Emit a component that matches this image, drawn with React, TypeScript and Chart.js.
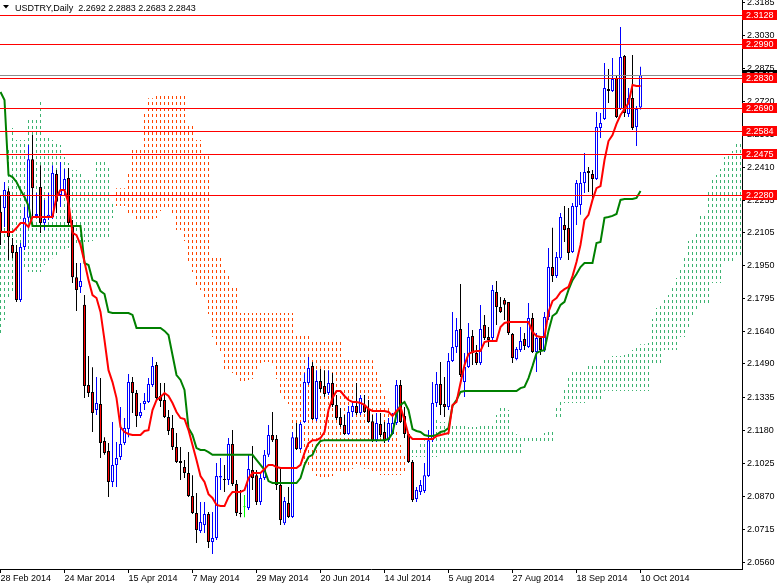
import React, { useEffect, useRef } from 'react';
import { Chart, registerables } from 'chart.js';

Chart.register(...registerables);

const W = 777;
const H = 584;

const symbolTitle = 'USDTRY,Daily';
const dateLabels = ['28 Feb 2014', '24 Mar 2014', '15 Apr 2014', '7 May 2014', '29 May 2014', '20 Jun 2014', '14 Jul 2014', '5 Aug 2014', '27 Aug 2014', '18 Sep 2014', '10 Oct 2014'];
const dateLabelBars = [0, 16, 32, 48, 64, 80, 96, 112, 128, 144, 160];
const priceTicks = [2.3185, 2.3030, 2.2875, 2.2720, 2.2565, 2.2410, 2.2255, 2.2105, 2.1950, 2.1795, 2.1640, 2.1490, 2.1335, 2.1180, 2.1025, 2.0870, 2.0715, 2.0560];
const priceMin = 2.0529;
const priceMax = 2.3196;
const levelLines = [2.3128, 2.2990, 2.2830, 2.2690, 2.2584, 2.2475, 2.2280];
const bidPrice = 2.2843;

const opens = [
  2.2203, 2.2221, 2.2300, 2.2048, 2.2015, 2.1790, 2.2038, 2.2175, 2.2450, 2.2184,
  2.2319, 2.2151, 2.2175, 2.2179, 2.2380, 2.2282, 2.2305, 2.2362, 2.2132, 2.1897,
  2.1851, 2.1767, 2.1392, 2.1359, 2.1274, 2.1302, 2.1129, 2.1082, 2.0937, 2.1017,
  2.1054, 2.1119, 2.1185, 2.1405, 2.1354, 2.1246, 2.1302, 2.1312, 2.1392, 2.1485,
  2.1340, 2.1321, 2.1241, 2.1190, 2.1101, 2.1035, 2.1007, 2.0979, 2.0871, 2.0791,
  2.0707, 2.0735, 2.0787, 2.0656, 2.0674, 2.0958, 2.0951, 2.0946, 2.1115, 2.0927,
  2.0793, 2.0819, 2.0815, 2.0993, 2.0969, 2.0843, 2.0955, 2.1064, 2.1157, 2.1138,
  2.0923, 2.0744, 2.0838, 2.0773, 2.1147, 2.1091, 2.1218, 2.1401, 2.1480, 2.1232,
  2.1410, 2.1387, 2.1354, 2.1401, 2.1298, 2.1241, 2.1204, 2.1162, 2.1265, 2.1293,
  2.1260, 2.1298, 2.1279, 2.1222, 2.1133, 2.1209, 2.1171, 2.1133, 2.1162, 2.1213,
  2.1392, 2.1246, 2.1162, 2.1031, 2.0857, 2.0890, 2.0895, 2.0965, 2.1133, 2.1307,
  2.1396, 2.1302, 2.1288, 2.1504, 2.1569, 2.1654, 2.1405, 2.1476, 2.1621, 2.1541,
  2.1494, 2.1673, 2.1616, 2.1612, 2.1827, 2.1757, 2.1790, 2.1781, 2.1630, 2.1513,
  2.1555, 2.1607, 2.1569, 2.1705, 2.1546, 2.1612, 2.1555, 2.1710, 2.1944, 2.1902,
  2.1986, 2.2141, 2.2127, 2.2015, 2.2226, 2.2235, 2.2338, 2.2394, 2.2380, 2.2357,
  2.2596, 2.2638, 2.2779, 2.2769, 2.2830, 2.2685, 2.2933, 2.2662, 2.2737, 2.2601,
  2.2692,
];
const highs = [
  2.2282, 2.2343, 2.2314, 2.2080, 2.2048, 2.2057, 2.2226, 2.2516, 2.2563, 2.2291,
  2.2422, 2.2259, 2.2291, 2.2422, 2.2399, 2.2437, 2.2404, 2.2409, 2.2165, 2.1963,
  2.1963, 2.1813, 2.1527, 2.1475, 2.1429, 2.1424, 2.1147, 2.1119, 2.1218, 2.1124,
  2.1288, 2.1237, 2.1443, 2.1429, 2.1368, 2.1307, 2.1354, 2.1424, 2.1523, 2.1499,
  2.1401, 2.1401, 2.1274, 2.1251, 2.1166, 2.1101, 2.1040, 2.1077, 2.0969, 2.0885,
  2.0843, 2.0843, 2.0796, 2.0796, 2.1026, 2.1049, 2.1017, 2.1143, 2.1180, 2.0946,
  2.0899, 2.0876, 2.1064, 2.1105, 2.0993, 2.0979, 2.1087, 2.1204, 2.1265, 2.1157,
  2.1002, 2.0866, 2.0913, 2.1171, 2.1213, 2.1218, 2.1448, 2.1523, 2.1499, 2.1461,
  2.1466, 2.1461, 2.1461, 2.1448, 2.1345, 2.1284, 2.1251, 2.1293, 2.1312, 2.1401,
  2.1345, 2.1345, 2.1321, 2.1251, 2.1260, 2.1260, 2.1218, 2.1237, 2.1260, 2.1415,
  2.1415, 2.1288, 2.1166, 2.1040, 2.0913, 2.0946, 2.1026, 2.1180, 2.1405, 2.1452,
  2.1499, 2.1429, 2.1541, 2.1734, 2.1705, 2.1865, 2.1541, 2.1682, 2.1649, 2.1579,
  2.1766, 2.1720, 2.1663, 2.1860, 2.1879, 2.1804, 2.1799, 2.1781, 2.1635, 2.1569,
  2.1663, 2.1635, 2.1776, 2.1729, 2.1635, 2.1616, 2.1734, 2.2033, 2.2128, 2.2015,
  2.2198, 2.2231, 2.2221, 2.2245, 2.2352, 2.2390, 2.2479, 2.2413, 2.2399, 2.2671,
  2.2666, 2.2901, 2.2872, 2.2924, 2.2844, 2.3069, 2.2938, 2.2783, 2.2938, 2.2699,
  2.2883,
];
const lows = [
  2.2048, 2.2132, 2.1977, 2.1986, 2.1781, 2.1781, 2.2024, 2.2156, 2.2179, 2.2175,
  2.2104, 2.2118, 2.2165, 2.2170, 2.2198, 2.2226, 2.2282, 2.2132, 2.1869, 2.1738,
  2.1823, 2.1330, 2.1335, 2.1171, 2.1251, 2.1049, 2.1064, 2.0866, 2.0913, 2.0913,
  2.1040, 2.1110, 2.1147, 2.1260, 2.1194, 2.1237, 2.1274, 2.1307, 2.1382, 2.1321,
  2.1288, 2.1237, 2.1157, 2.1087, 2.1026, 2.0946, 2.0955, 2.0866, 2.0787, 2.0651,
  2.0698, 2.0698, 2.0627, 2.0599, 2.0665, 2.0899, 2.0890, 2.0923, 2.0918, 2.0777,
  2.0772, 2.0772, 2.0805, 2.0899, 2.0829, 2.0829, 2.0946, 2.1054, 2.1124, 2.0899,
  2.0735, 2.0735, 2.0768, 2.0768, 2.1087, 2.1087, 2.1213, 2.1392, 2.1227, 2.1222,
  2.1359, 2.1335, 2.1345, 2.1288, 2.1227, 2.1194, 2.1157, 2.1157, 2.1241, 2.1251,
  2.1251, 2.1260, 2.1213, 2.1124, 2.1124, 2.1147, 2.1119, 2.1124, 2.1157, 2.1204,
  2.1213, 2.1143, 2.1026, 2.0843, 2.0843, 2.0876, 2.0885, 2.0960, 2.1124, 2.1288,
  2.1251, 2.1241, 2.1274, 2.1499, 2.1541, 2.1429, 2.1335, 2.1471, 2.1485, 2.1485,
  2.1485, 2.1602, 2.1569, 2.1602, 2.1673, 2.1729, 2.1696, 2.1626, 2.1494, 2.1508,
  2.1546, 2.1555, 2.1565, 2.1541, 2.1452, 2.1532, 2.1546, 2.1696, 2.1874, 2.1893,
  2.1977, 2.2062, 2.1977, 2.2010, 2.2141, 2.2189, 2.2291, 2.2296, 2.2259, 2.2352,
  2.2549, 2.2634, 2.2713, 2.2765, 2.2643, 2.2680, 2.2648, 2.2648, 2.2587, 2.2512,
  2.2683,
];
const closes = [
  2.2109, 2.2305, 2.2085, 2.2010, 2.1790, 2.2038, 2.2175, 2.2450, 2.2314, 2.2193,
  2.2151, 2.2170, 2.2189, 2.2385, 2.2250, 2.2305, 2.2357, 2.2151, 2.1897, 2.1837,
  2.1879, 2.1387, 2.1354, 2.1260, 2.1307, 2.1119, 2.1073, 2.0937, 2.1017, 2.1049,
  2.1115, 2.1190, 2.1405, 2.1354, 2.1246, 2.1265, 2.1316, 2.1396, 2.1480, 2.1330,
  2.1316, 2.1241, 2.1176, 2.1101, 2.1031, 2.1026, 2.0979, 2.0871, 2.0791, 2.0712,
  2.0749, 2.0787, 2.0656, 2.0674, 2.0965, 2.0965, 2.0946, 2.1115, 2.0927, 2.0791,
  2.0787, 2.0819, 2.0998, 2.0955, 2.0843, 2.0955, 2.1064, 2.1157, 2.1133, 2.0923,
  2.0759, 2.0848, 2.0773, 2.1147, 2.1091, 2.1209, 2.1405, 2.1471, 2.1232, 2.1410,
  2.1373, 2.1349, 2.1401, 2.1298, 2.1237, 2.1204, 2.1162, 2.1265, 2.1293, 2.1260,
  2.1330, 2.1265, 2.1218, 2.1133, 2.1213, 2.1157, 2.1133, 2.1213, 2.1213, 2.1392,
  2.1218, 2.1162, 2.1031, 2.0852, 2.0899, 2.0923, 2.0969, 2.1133, 2.1307, 2.1396,
  2.1298, 2.1288, 2.1504, 2.1569, 2.1649, 2.1438, 2.1476, 2.1616, 2.1541, 2.1494,
  2.1654, 2.1612, 2.1602, 2.1837, 2.1757, 2.1734, 2.1767, 2.1635, 2.1518, 2.1560,
  2.1598, 2.1574, 2.1705, 2.1546, 2.1612, 2.1555, 2.1710, 2.1944, 2.1902, 2.1991,
  2.2179, 2.2118, 2.2010, 2.2231, 2.2338, 2.2338, 2.2390, 2.2385, 2.2357, 2.2601,
  2.2620, 2.2783, 2.2769, 2.2826, 2.2648, 2.2929, 2.2666, 2.2737, 2.2596, 2.2685,
  2.2843,
];

const tenkan = [
  2.2109, 2.2109, 2.2109, 2.2109, 2.2127, 2.2151, 2.2151, 2.2132, 2.2179, 2.2179,
  2.2179, 2.2179, 2.2179, 2.2179, 2.2273, 2.2305, 2.2305, 2.2245, 2.2104, 2.2094,
  2.2048, 2.1968, 2.1883, 2.1813, 2.1799, 2.1734, 2.1602, 2.1461, 2.1405, 2.1330,
  2.1194, 2.1171, 2.1162, 2.1157, 2.1157, 2.1157, 2.1176, 2.1180, 2.1274, 2.1321,
  2.1335, 2.1354, 2.1340, 2.1307, 2.1265, 2.1237, 2.1232, 2.1180, 2.1110, 2.1040,
  2.0965, 2.0937, 2.0880, 2.0862, 2.0829, 2.0824, 2.0824, 2.0866, 2.0890, 2.0890,
  2.0890, 2.0899, 2.0955, 2.0979, 2.0979, 2.0979, 2.0998, 2.1017, 2.1017, 2.1007,
  2.1002, 2.1002, 2.1002, 2.1002, 2.1002, 2.1017, 2.1073, 2.1119, 2.1133, 2.1133,
  2.1143, 2.1171, 2.1274, 2.1330, 2.1363, 2.1363, 2.1340, 2.1321, 2.1312, 2.1312,
  2.1307, 2.1298, 2.1279, 2.1270, 2.1270, 2.1270, 2.1270, 2.1265, 2.1246, 2.1270,
  2.1288, 2.1227, 2.1157, 2.1138, 2.1138, 2.1138, 2.1138, 2.1138, 2.1138, 2.1152,
  2.1157, 2.1162, 2.1166, 2.1298, 2.1312, 2.1401, 2.1485, 2.1537, 2.1546, 2.1551,
  2.1551, 2.1593, 2.1598, 2.1598, 2.1598, 2.1663, 2.1682, 2.1687, 2.1687, 2.1687,
  2.1687, 2.1687, 2.1687, 2.1640, 2.1621, 2.1616, 2.1616, 2.1734, 2.1785, 2.1799,
  2.1827, 2.1841, 2.1851, 2.1902, 2.1968, 2.2048, 2.2165, 2.2189, 2.2259, 2.2314,
  2.2324, 2.2446, 2.2535, 2.2563, 2.2615, 2.2657, 2.2685, 2.2713, 2.2798, 2.2793,
  2.2793,
];
const kijun = [
  2.2765, 2.2727, 2.2376, 2.2366, 2.2343, 2.2305, 2.2273, 2.2231, 2.2137, 2.2137,
  2.2137, 2.2137, 2.2137, 2.2137, 2.2137, 2.2137, 2.2137, 2.2137, 2.2137, 2.2137,
  2.2137, 2.1963, 2.1954, 2.1883, 2.1874, 2.1832, 2.1818, 2.1734, 2.1729, 2.1729,
  2.1729, 2.1729, 2.1729, 2.1720, 2.1659, 2.1659, 2.1659, 2.1659, 2.1659, 2.1659,
  2.1659, 2.1645, 2.1626, 2.1532, 2.1438, 2.1415, 2.1368, 2.1190, 2.1157, 2.1096,
  2.1087, 2.1087, 2.1077, 2.1064, 2.1064, 2.1064, 2.1064, 2.1064, 2.1064, 2.1064,
  2.1064, 2.1064, 2.1064, 2.1064, 2.1040, 2.1017, 2.0993, 2.0941, 2.0932, 2.0932,
  2.0932, 2.0932, 2.0932, 2.0932, 2.0932, 2.0955, 2.1017, 2.1054, 2.1064, 2.1105,
  2.1129, 2.1133, 2.1133, 2.1133, 2.1133, 2.1133, 2.1133, 2.1133, 2.1133, 2.1133,
  2.1133, 2.1133, 2.1133, 2.1133, 2.1133, 2.1133, 2.1133, 2.1138, 2.1166, 2.1255,
  2.1298, 2.1312, 2.1274, 2.1185, 2.1176, 2.1171, 2.1157, 2.1152, 2.1152, 2.1157,
  2.1171, 2.1176, 2.1190, 2.1293, 2.1321, 2.1359, 2.1363, 2.1363, 2.1363, 2.1363,
  2.1363, 2.1363, 2.1363, 2.1363, 2.1363, 2.1363, 2.1363, 2.1363, 2.1363, 2.1363,
  2.1377, 2.1382, 2.1424, 2.1480, 2.1541, 2.1551, 2.1555, 2.1645, 2.1715, 2.1729,
  2.1767, 2.1781, 2.1837, 2.1883, 2.1912, 2.1944, 2.1963, 2.1963, 2.1963, 2.2057,
  2.2062, 2.2175, 2.2179, 2.2184, 2.2193, 2.2259, 2.2263, 2.2263, 2.2263, 2.2268,
  2.2301,
];

const spanA = [
  2.2259, 2.2305, 2.2507, 2.2596, 2.2540, 2.2540, 2.2540, 2.2634, 2.2634, 2.2634,
  2.2718, 2.2554, 2.2554, 2.2540, 2.2526, 2.2516, 2.2460, 2.2432, 2.2399, 2.2399,
  2.2385, 2.2361, 2.2352, 2.2352, 2.2437, 2.2437, 2.2437, 2.2418, 2.2245, 2.2231,
  2.2231, 2.2231, 2.2198, 2.2198, 2.2156, 2.2156, 2.2156, 2.2165, 2.2165, 2.2174,
  2.2207, 2.2226, 2.2221, 2.2193, 2.2118, 2.2118, 2.2066, 2.1968, 2.1921, 2.1851,
  2.1837, 2.1790, 2.1724, 2.1616, 2.1574, 2.1537, 2.1461, 2.1452, 2.1448, 2.1438,
  2.1410, 2.1410, 2.1415, 2.1420, 2.1466, 2.1490, 2.1499, 2.1499, 2.1485, 2.1420,
  2.1354, 2.1326, 2.1302, 2.1185, 2.1133, 2.1068, 2.1026, 2.1012, 2.0979, 2.0965,
  2.0946, 2.0946, 2.0946, 2.0965, 2.0979, 2.0979, 2.0979, 2.0984, 2.0998, 2.1021,
  2.1012, 2.0998, 2.0998, 2.0979, 2.0974, 2.0970, 2.0970, 2.0970, 2.0970, 2.0970,
  2.0970, 2.0988, 2.1077, 2.1087, 2.1101, 2.1119, 2.1133, 2.1152, 2.1204, 2.1227,
  2.1218, 2.1218, 2.1209, 2.1204, 2.1199, 2.1199, 2.1199, 2.1194, 2.1194, 2.1194,
  2.1199, 2.1199, 2.1199, 2.1204, 2.1251, 2.1288, 2.1293, 2.1274, 2.1180, 2.1162,
  2.1157, 2.1157, 2.1147, 2.1147, 2.1147, 2.1157, 2.1166, 2.1171, 2.1180, 2.1298,
  2.1316, 2.1382, 2.1424, 2.1452, 2.1457, 2.1457, 2.1457, 2.1480, 2.1480, 2.1480,
  2.1480, 2.1513, 2.1523, 2.1527, 2.1527, 2.1527, 2.1532, 2.1537, 2.1555, 2.1569,
  2.1583, 2.1583, 2.1588, 2.1701, 2.1752, 2.1766, 2.1799, 2.1813, 2.1846, 2.1893,
  2.1939, 2.1996, 2.2066, 2.2076, 2.2113, 2.2189, 2.2193, 2.2310, 2.2361, 2.2376,
  2.2404, 2.2460, 2.2474, 2.2488, 2.2530, 2.2530, 2.2549,
];
const spanB = [
  2.1626, 2.1696, 2.1790, 2.1823, 2.1883, 2.1921, 2.1930, 2.1921, 2.1921, 2.1921,
  2.1921, 2.1954, 2.1968, 2.1986, 2.2001, 2.2015, 2.2024, 2.2034, 2.2038, 2.2048,
  2.2057, 2.2062, 2.2062, 2.2066, 2.2071, 2.2071, 2.2071, 2.2071, 2.2174, 2.2314,
  2.2314, 2.2314, 2.2380, 2.2507, 2.2507, 2.2507, 2.2671, 2.2736, 2.2736, 2.2746,
  2.2751, 2.2751, 2.2751, 2.2760, 2.2760, 2.2760, 2.2760, 2.2620, 2.2620, 2.2540,
  2.2540, 2.2479, 2.2479, 2.2001, 2.2001, 2.2001, 2.1939, 2.1907, 2.1860, 2.1860,
  2.1729, 2.1729, 2.1729, 2.1729, 2.1729, 2.1729, 2.1729, 2.1729, 2.1729, 2.1729,
  2.1729, 2.1729, 2.1729, 2.1729, 2.1626, 2.1626, 2.1626, 2.1626, 2.1593, 2.1593,
  2.1593, 2.1593, 2.1593, 2.1593, 2.1593, 2.1593, 2.1523, 2.1523, 2.1523, 2.1523,
  2.1523, 2.1523, 2.1523, 2.1508, 2.1461, 2.1401, 2.1345, 2.1298, 2.1251, 2.1180,
  2.1110, 2.1064, 2.1054, 2.1054, 2.1054, 2.1054, 2.1054, 2.1054, 2.1054, 2.1054,
  2.1059, 2.1064, 2.1064, 2.1064, 2.1064, 2.1064, 2.1064, 2.1064, 2.1064, 2.1064,
  2.1064, 2.1064, 2.1064, 2.1064, 2.1064, 2.1064, 2.1064, 2.1064, 2.1064, 2.1064,
  2.1064, 2.1124, 2.1124, 2.1124, 2.1124, 2.1124, 2.1124, 2.1124, 2.1124, 2.1237,
  2.1237, 2.1307, 2.1307, 2.1307, 2.1307, 2.1307, 2.1307, 2.1321, 2.1321, 2.1321,
  2.1321, 2.1363, 2.1363, 2.1363, 2.1363, 2.1363, 2.1363, 2.1363, 2.1363, 2.1363,
  2.1363, 2.1363, 2.1363, 2.1485, 2.1485, 2.1485, 2.1555, 2.1555, 2.1555, 2.1555,
  2.1616, 2.1616, 2.1663, 2.1705, 2.1743, 2.1766, 2.1766, 2.1766, 2.1869, 2.1869,
  2.1869, 2.1968, 2.1968, 2.1968, 2.1991, 2.1991, 2.1991,
];

const FONT = '"Liberation Sans", Arial, sans-serif';

const overlayPlugin = {
  id: 'mt4Overlay',
  afterDatasetsDraw(chart: any) {
    const { ctx, chartArea: a, scales } = chart;
    const y = scales.y;
    const py = (v: number) => Math.round(y.getPixelForValue(v)) + 0.5;
    ctx.save();
    ctx.beginPath();
    ctx.rect(a.left, a.top, a.right - a.left, a.bottom - a.top);
    ctx.clip();
    ctx.lineWidth = 1;
    ctx.strokeStyle = '#8c8c8c';
    ctx.beginPath();
    ctx.moveTo(a.left, py(bidPrice));
    ctx.lineTo(a.right, py(bidPrice));
    ctx.stroke();
    ctx.strokeStyle = '#ff0000';
    levelLines.forEach((v) => {
      ctx.beginPath();
      ctx.moveTo(a.left, py(v));
      ctx.lineTo(a.right, py(v));
      ctx.stroke();
    });
    ctx.restore();
  },
  afterDraw(chart: any) {
    const { ctx, chartArea: a, scales, width } = chart;
    const y = scales.y;
    const py = (v: number) => Math.round(y.getPixelForValue(v));
    ctx.save();
    ctx.font = `9px ${FONT}`;
    ctx.textBaseline = 'middle';
    ctx.textAlign = 'left';
    const box = (v: number, fill: string) => {
      const c = py(v);
      ctx.fillStyle = fill;
      ctx.fillRect(a.right, c - 5, width - a.right, 10);
      ctx.fillStyle = '#ffffff';
      ctx.fillText(v.toFixed(4), a.right + 4, c + 0.5);
    };
    box(bidPrice, '#000000');
    levelLines.forEach((v) => box(v, '#ff0000'));
    // title
    const last = opens.length - 1;
    ctx.fillStyle = '#000000';
    ctx.beginPath();
    ctx.moveTo(3, 5);
    ctx.lineTo(9, 5);
    ctx.lineTo(6, 8.5);
    ctx.closePath();
    ctx.fill();
    ctx.textBaseline = 'alphabetic';
    ctx.fillText(
      `${symbolTitle}  ${opens[last].toFixed(4)} ${highs[last].toFixed(4)} ${lows[last].toFixed(4)} ${closes[last].toFixed(4)}`,
      15,
      11
    );
    ctx.restore();
  },
};

export default function App() {
  const ref = useRef<HTMLCanvasElement | null>(null);

  useEffect(() => {
    const canvas = ref.current;
    if (!canvas) return;
    document.body.style.margin = '0';
    const ctx = canvas.getContext('2d') as CanvasRenderingContext2D;

    const mkPattern = (color: string) => {
      const c = document.createElement('canvas');
      c.width = 1;
      c.height = 6;
      const g = c.getContext('2d') as CanvasRenderingContext2D;
      g.fillStyle = color;
      g.fillRect(0, 0, 1, 3);
      return ctx.createPattern(c, 'repeat') as CanvasPattern;
    };
    const greenDots = mkPattern('#3cb371');
    const orangeDots = mkPattern('#ff4500');

    const isDoji = (i: number) => closes[i] === opens[i];
    const isBull = (i: number) => closes[i] > opens[i];
    const wickColors = opens.map((_, i) => (isDoji(i) ? '#00ff00' : isBull(i) ? '#0000ff' : '#000000'));
    const bodyFill = opens.map((_, i) => (isDoji(i) ? '#00ff00' : isBull(i) ? '#ffffff' : '#ff0000'));
    const bodyBorder = opens.map((_, i) => (isDoji(i) ? '#00ff00' : isBull(i) ? '#0000ff' : '#000000'));

    const cloudData = spanA.map((a, i) => ({ x: i, y: [Math.min(a, spanB[i]), Math.max(a, spanB[i])] }));
    const cloudColors = spanA.map((a, i) => (a >= spanB[i] ? greenDots : orangeDots));

    const chart = new Chart(ctx, {
      type: 'bar',
      data: {
        datasets: [
          {
            type: 'line',
            label: 'Tenkan-sen',
            data: tenkan.map((v, i) => ({ x: i, y: v })),
            borderColor: '#ff0000',
            borderWidth: 2,
            pointRadius: 0,
            tension: 0,
            fill: false,
            order: 1,
          } as any,
          {
            type: 'line',
            label: 'Kijun-sen',
            data: kijun.map((v, i) => ({ x: i, y: v })),
            borderColor: '#008000',
            borderWidth: 2,
            pointRadius: 0,
            tension: 0,
            fill: false,
            order: 2,
          } as any,
          {
            type: 'bar',
            label: 'Bodies',
            data: opens.map((o, i) => ({ x: i, y: [o, closes[i]] })),
            backgroundColor: bodyFill,
            borderColor: bodyBorder,
            borderWidth: 1,
            borderSkipped: false,
            barThickness: 3,
            minBarLength: 1,
            grouped: false,
            inflateAmount: 0,
            order: 3,
          } as any,
          {
            type: 'bar',
            label: 'Wicks',
            data: lows.map((l, i) => ({ x: i, y: [l, highs[i]] })),
            backgroundColor: wickColors,
            borderWidth: 0,
            barThickness: 1,
            grouped: false,
            inflateAmount: 0,
            order: 4,
          } as any,
          {
            type: 'bar',
            label: 'Kumo',
            data: cloudData,
            backgroundColor: cloudColors,
            borderWidth: 0,
            barThickness: 1,
            grouped: false,
            inflateAmount: 0,
            order: 5,
          } as any,
        ],
      },
      options: {
        responsive: false,
        animation: false,
        devicePixelRatio: 1,
        layout: { padding: 0 },
        plugins: {
          legend: { display: false },
          tooltip: { enabled: false },
          title: { display: false },
        },
        scales: {
          x: {
            type: 'linear',
            min: -0.125,
            max: 185.375,
            offset: false,
            afterBuildTicks: (s: any) => {
              s.ticks = dateLabelBars.map((v) => ({ value: v }));
            },
            afterFit: (s: any) => {
              s.height = 15;
              s.paddingLeft = 0;
              s.paddingRight = 0;
            },
            ticks: {
              autoSkip: false,
              maxRotation: 0,
              minRotation: 0,
              align: 'start',
              padding: 0,
              color: '#000000',
              font: { family: FONT, size: 9 },
              callback: (v: any) => {
                const k = dateLabelBars.indexOf(Number(v));
                return k >= 0 ? dateLabels[k] : '';
              },
            },
            grid: { drawOnChartArea: false, offset: false, tickLength: 4, color: '#000000' },
            border: { display: true, color: '#000000', width: 1 },
          },
          y: {
            position: 'right',
            min: priceMin,
            max: priceMax,
            afterBuildTicks: (s: any) => {
              s.ticks = priceTicks.map((v) => ({ value: v }));
            },
            afterFit: (s: any) => {
              s.width = 35;
              s.paddingTop = 0;
              s.paddingBottom = 0;
            },
            ticks: {
              autoSkip: false,
              padding: 2,
              color: '#000000',
              font: { family: FONT, size: 9 },
              callback: (v: any) => Number(v).toFixed(4),
            },
            grid: { drawOnChartArea: false, tickLength: 3, color: '#000000' },
            border: { display: true, color: '#000000', width: 1 },
          },
        },
      } as any,
      plugins: [overlayPlugin],
    });

    return () => {
      chart.destroy();
    };
  }, []);

  return (
    <div style={{ position: 'fixed', left: 0, top: 0, width: W, height: H, background: '#ffffff' }}>
      <canvas ref={ref} width={W} height={H} style={{ display: 'block', width: W, height: H }} />
    </div>
  );
}
